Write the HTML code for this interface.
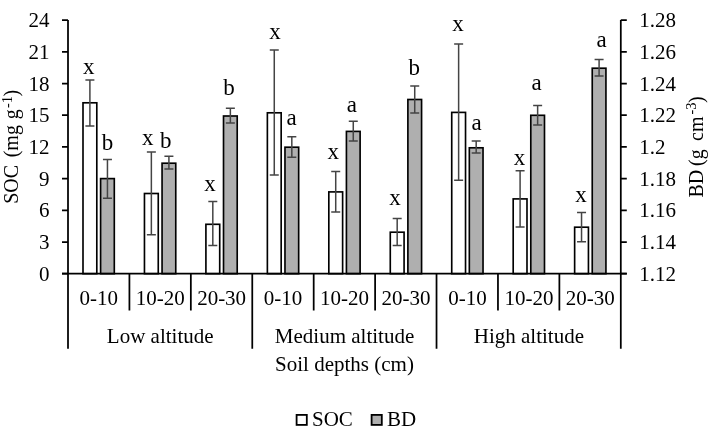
<!DOCTYPE html><html><head><meta charset="utf-8"><style>
html,body{margin:0;padding:0;background:#fff;width:709px;height:433px;overflow:hidden}
svg{display:block;filter:grayscale(1)}
text{font-family:"Liberation Serif",serif;fill:#000}
</style></head><body>
<svg width="709" height="433" viewBox="0 0 709 433">
<rect width="709" height="433" fill="#fff"/>
<rect x="83.00" y="102.80" width="13.80" height="170.90" fill="#fff" stroke="#000" stroke-width="1.65"/>
<rect x="100.60" y="178.60" width="13.70" height="95.10" fill="#afafaf" stroke="#000" stroke-width="1.65"/>
<path d="M89.90 80.00V126.00M85.40 80.00H94.40M85.40 126.00H94.40" stroke="#444444" stroke-width="1.5" fill="none"/>
<path d="M107.45 159.40V198.20M102.95 159.40H111.95M102.95 198.20H111.95" stroke="#444444" stroke-width="1.5" fill="none"/>
<text x="88.65" y="73.7" font-size="23" text-anchor="middle">x</text>
<text x="107.6" y="149.6" font-size="23" text-anchor="middle">b</text>
<rect x="144.46" y="193.50" width="13.80" height="80.20" fill="#fff" stroke="#000" stroke-width="1.65"/>
<rect x="162.06" y="163.20" width="13.70" height="110.50" fill="#afafaf" stroke="#000" stroke-width="1.65"/>
<path d="M151.36 151.90V234.70M146.86 151.90H155.86M146.86 234.70H155.86" stroke="#444444" stroke-width="1.5" fill="none"/>
<path d="M168.91 156.30V169.10M164.41 156.30H173.41M164.41 169.10H173.41" stroke="#444444" stroke-width="1.5" fill="none"/>
<text x="147.7" y="144.9" font-size="23" text-anchor="middle">x</text>
<text x="165.8" y="147.5" font-size="23" text-anchor="middle">b</text>
<rect x="205.91" y="224.30" width="13.80" height="49.40" fill="#fff" stroke="#000" stroke-width="1.65"/>
<rect x="223.51" y="116.00" width="13.70" height="157.70" fill="#afafaf" stroke="#000" stroke-width="1.65"/>
<path d="M212.81 201.60V245.60M208.31 201.60H217.31M208.31 245.60H217.31" stroke="#444444" stroke-width="1.5" fill="none"/>
<path d="M230.36 108.20V123.00M225.86 108.20H234.86M225.86 123.00H234.86" stroke="#444444" stroke-width="1.5" fill="none"/>
<text x="210.1" y="190.9" font-size="23" text-anchor="middle">x</text>
<text x="229.0" y="95.30000000000001" font-size="23" text-anchor="middle">b</text>
<rect x="267.37" y="112.80" width="13.80" height="160.90" fill="#fff" stroke="#000" stroke-width="1.65"/>
<rect x="284.97" y="147.20" width="13.70" height="126.50" fill="#afafaf" stroke="#000" stroke-width="1.65"/>
<path d="M274.27 50.00V175.10M269.77 50.00H278.77M269.77 175.10H278.77" stroke="#444444" stroke-width="1.5" fill="none"/>
<path d="M291.82 136.70V157.30M287.32 136.70H296.32M287.32 157.30H296.32" stroke="#444444" stroke-width="1.5" fill="none"/>
<text x="274.9" y="39.199999999999996" font-size="23" text-anchor="middle">x</text>
<text x="291.6" y="124.9" font-size="23" text-anchor="middle">a</text>
<rect x="328.82" y="191.90" width="13.80" height="81.80" fill="#fff" stroke="#000" stroke-width="1.65"/>
<rect x="346.42" y="131.40" width="13.70" height="142.30" fill="#afafaf" stroke="#000" stroke-width="1.65"/>
<path d="M335.72 171.60V211.90M331.22 171.60H340.22M331.22 211.90H340.22" stroke="#444444" stroke-width="1.5" fill="none"/>
<path d="M353.27 121.20V141.10M348.77 121.20H357.77M348.77 141.10H357.77" stroke="#444444" stroke-width="1.5" fill="none"/>
<text x="333.2" y="158.9" font-size="23" text-anchor="middle">x</text>
<text x="351.8" y="111.9" font-size="23" text-anchor="middle">a</text>
<rect x="390.28" y="232.20" width="13.80" height="41.50" fill="#fff" stroke="#000" stroke-width="1.65"/>
<rect x="407.88" y="99.50" width="13.70" height="174.20" fill="#afafaf" stroke="#000" stroke-width="1.65"/>
<path d="M397.18 218.50V245.40M392.68 218.50H401.68M392.68 245.40H401.68" stroke="#444444" stroke-width="1.5" fill="none"/>
<path d="M414.73 86.00V113.00M410.23 86.00H419.23M410.23 113.00H419.23" stroke="#444444" stroke-width="1.5" fill="none"/>
<text x="395.0" y="204.6" font-size="23" text-anchor="middle">x</text>
<text x="414.2" y="75.30000000000001" font-size="23" text-anchor="middle">b</text>
<rect x="451.73" y="112.40" width="13.80" height="161.30" fill="#fff" stroke="#000" stroke-width="1.65"/>
<rect x="469.33" y="147.80" width="13.70" height="125.90" fill="#afafaf" stroke="#000" stroke-width="1.65"/>
<path d="M458.63 44.10V180.30M454.13 44.10H463.13M454.13 180.30H463.13" stroke="#444444" stroke-width="1.5" fill="none"/>
<path d="M476.18 141.10V153.10M471.68 141.10H480.68M471.68 153.10H480.68" stroke="#444444" stroke-width="1.5" fill="none"/>
<text x="457.9" y="31.4" font-size="23" text-anchor="middle">x</text>
<text x="476.5" y="130.0" font-size="23" text-anchor="middle">a</text>
<rect x="513.19" y="198.90" width="13.80" height="74.80" fill="#fff" stroke="#000" stroke-width="1.65"/>
<rect x="530.79" y="115.30" width="13.70" height="158.40" fill="#afafaf" stroke="#000" stroke-width="1.65"/>
<path d="M520.09 170.70V226.90M515.59 170.70H524.59M515.59 226.90H524.59" stroke="#444444" stroke-width="1.5" fill="none"/>
<path d="M537.64 105.40V125.00M533.14 105.40H542.14M533.14 125.00H542.14" stroke="#444444" stroke-width="1.5" fill="none"/>
<text x="519.6" y="164.6" font-size="23" text-anchor="middle">x</text>
<text x="536.7" y="89.7" font-size="23" text-anchor="middle">a</text>
<rect x="574.64" y="227.20" width="13.80" height="46.50" fill="#fff" stroke="#000" stroke-width="1.65"/>
<rect x="592.24" y="68.20" width="13.70" height="205.50" fill="#afafaf" stroke="#000" stroke-width="1.65"/>
<path d="M581.54 212.50V241.80M577.04 212.50H586.04M577.04 241.80H586.04" stroke="#444444" stroke-width="1.5" fill="none"/>
<path d="M599.09 59.60V76.00M594.59 59.60H603.59M594.59 76.00H603.59" stroke="#444444" stroke-width="1.5" fill="none"/>
<text x="581.0" y="202.3" font-size="23" text-anchor="middle">x</text>
<text x="601.5" y="46.9" font-size="23" text-anchor="middle">a</text>
<path d="M68.0 20.1V348.8M620.8 20.1V348.8M62.0 273.7H626.8" stroke="#000" stroke-width="1.75" fill="none"/>
<path d="M62.0 20.10H68.0M620.8 20.10H626.8M62.0 51.80H68.0M620.8 51.80H626.8M62.0 83.50H68.0M620.8 83.50H626.8M62.0 115.20H68.0M620.8 115.20H626.8M62.0 146.90H68.0M620.8 146.90H626.8M62.0 178.60H68.0M620.8 178.60H626.8M62.0 210.30H68.0M620.8 210.30H626.8M62.0 242.00H68.0M620.8 242.00H626.8M62.0 273.70H68.0M620.8 273.70H626.8" stroke="#000" stroke-width="1.75" fill="none"/>
<path d="M129.42 273.7V310.5M190.84 273.7V310.5M252.27 273.7V348.8M313.69 273.7V310.5M375.11 273.7V310.5M436.53 273.7V348.8M497.96 273.7V310.5M559.38 273.7V310.5" stroke="#000" stroke-width="1.75" fill="none"/>
<text x="49.4" y="27.10" font-size="21" text-anchor="end">24</text>
<text x="639.3" y="27.10" font-size="21">1.28</text>
<text x="49.4" y="58.80" font-size="21" text-anchor="end">21</text>
<text x="639.3" y="58.80" font-size="21">1.26</text>
<text x="49.4" y="90.50" font-size="21" text-anchor="end">18</text>
<text x="639.3" y="90.50" font-size="21">1.24</text>
<text x="49.4" y="122.20" font-size="21" text-anchor="end">15</text>
<text x="639.3" y="122.20" font-size="21">1.22</text>
<text x="49.4" y="153.90" font-size="21" text-anchor="end">12</text>
<text x="639.3" y="153.90" font-size="21">1.2</text>
<text x="49.4" y="185.60" font-size="21" text-anchor="end">9</text>
<text x="639.3" y="185.60" font-size="21">1.18</text>
<text x="49.4" y="217.30" font-size="21" text-anchor="end">6</text>
<text x="639.3" y="217.30" font-size="21">1.16</text>
<text x="49.4" y="249.00" font-size="21" text-anchor="end">3</text>
<text x="639.3" y="249.00" font-size="21">1.14</text>
<text x="49.4" y="280.70" font-size="21" text-anchor="end">0</text>
<text x="639.3" y="280.70" font-size="21">1.12</text>
<text x="98.73" y="304.7" font-size="21" text-anchor="middle">0-10</text>
<text x="160.18" y="304.7" font-size="21" text-anchor="middle">10-20</text>
<text x="221.64" y="304.7" font-size="21" text-anchor="middle">20-30</text>
<text x="283.09" y="304.7" font-size="21" text-anchor="middle">0-10</text>
<text x="344.55" y="304.7" font-size="21" text-anchor="middle">10-20</text>
<text x="406.01" y="304.7" font-size="21" text-anchor="middle">20-30</text>
<text x="467.46" y="304.7" font-size="21" text-anchor="middle">0-10</text>
<text x="528.92" y="304.7" font-size="21" text-anchor="middle">10-20</text>
<text x="590.37" y="304.7" font-size="21" text-anchor="middle">20-30</text>
<text x="160.18" y="342.5" font-size="21" text-anchor="middle">Low altitude</text>
<text x="344.55" y="342.5" font-size="21" text-anchor="middle">Medium altitude</text>
<text x="528.92" y="342.5" font-size="21" text-anchor="middle">High altitude</text>
<text x="344.5" y="371.0" font-size="21" text-anchor="middle">Soil depths (cm)</text>
<g transform="translate(18,0) rotate(-90)">
<text x="-203.80" y="0" font-size="20">SOC</text>
<text x="-157.30" y="0" font-size="20">(mg</text>
<text x="-119.20" y="0" font-size="20">g</text>
<text x="-108.10" y="-6.5" font-size="14.5">-1</text>
<text x="-96.50" y="0" font-size="20">)</text>
</g>
<g transform="translate(702.8,0) rotate(-90)">
<text x="-197.50" y="0" font-size="20">BD</text>
<text x="-166.00" y="0" font-size="20">(g</text>
<text x="-141.00" y="0" font-size="20">cm</text>
<text x="-114.60" y="-6.5" font-size="14.5">-3</text>
<text x="-103.10" y="0" font-size="20">)</text>
</g>
<rect x="296.6" y="414.9" width="10.2" height="10" fill="#fff" stroke="#000" stroke-width="1.8"/>
<text x="312" y="425.8" font-size="21">SOC</text>
<rect x="371.6" y="414.9" width="10.2" height="10" fill="#afafaf" stroke="#000" stroke-width="1.8"/>
<text x="387" y="425.8" font-size="21">BD</text>
</svg></body></html>
